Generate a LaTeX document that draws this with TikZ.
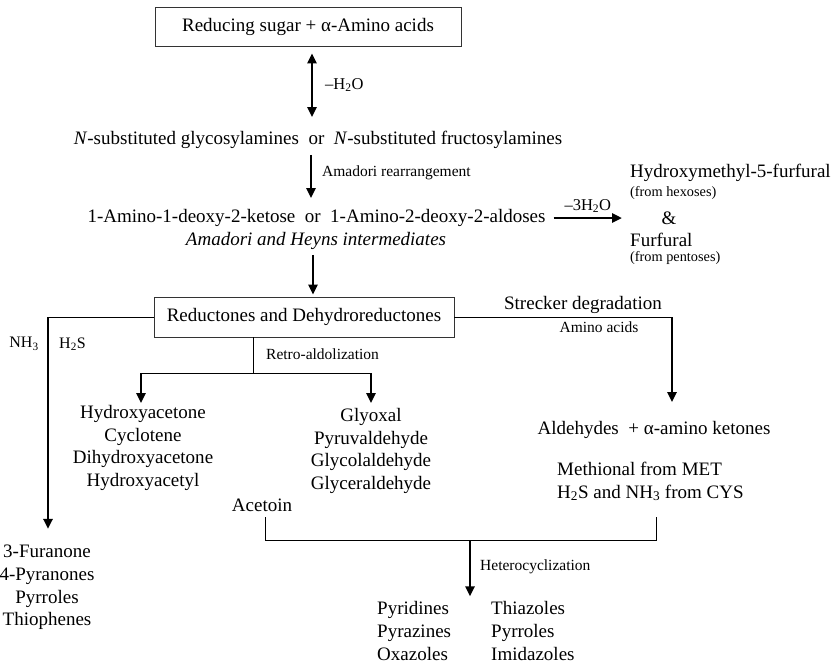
\documentclass[tikz,border=0pt]{standalone}
\usepackage{fontspec}
\setmainfont{Liberation Serif}
\usetikzlibrary{arrows.meta,calc,positioning}
\tikzset{
    box/.style={draw=black!80, line width=0.9pt, inner sep=0pt, minimum height=39pt},
    txt/.style={font=\fontsize{19}{22.7}\selectfont, inner sep=0pt, align=center},
    lbl/.style={font=\fontsize{15.5}{18}\selectfont, inner sep=0pt},
    tiny/.style={font=\fontsize{14.3}{17}\selectfont, inner sep=0pt},
    flow/.style={line width=2.7pt, -{Triangle[length=10pt,width=9pt]}},
    dflow/.style={line width=2.7pt, {Triangle[length=10pt,width=9pt]}-{Triangle[length=10pt,width=9pt]}},
    link/.style={line width=1pt}
}
\begin{document}
\begin{tikzpicture}[x=1pt,y=-1pt]
\useasboundingbox (0,0) rectangle (834,664);
\node[box, txt, minimum width=306pt] (sugar) at (308,26.5) {Reducing sugar + α-Amino acids};
\node[lbl, font=\fontsize{16.5}{18}\selectfont, anchor=west] (wat) at (325,85) {–H\textsubscript{2}O};
\node[txt] (glyco) at (318,140) {\textit{N}-substituted glycosylamines\ \ or\ \ \textit{N}-substituted fructosylamines};
\node[lbl, anchor=west] (rearr) at (322,173) {Amadori rearrangement};
\node[txt] (amino) at (316.5,218) {1-Amino-1-deoxy-2-ketose\ \ or\ \ 1-Amino-2-deoxy-2-aldoses};
\node[txt] (heyns) at (316,241) {\textit{Amadori and Heyns intermediates}};
\node[box, txt, minimum width=300pt, minimum height=40pt] (redu) at (304,317) {Reductones and Dehydroreductones};

\node[txt, anchor=west] (hmf) at (630,173) {Hydroxymethyl-5-furfural};
\node[tiny, anchor=west] (hex) at (630,193) {(from hexoses)};
\node[txt] (amp) at (669,218) {\&};
\node[txt, anchor=west] (furf) at (630,240) {Furfural};
\node[tiny, anchor=west] (pent) at (630,258) {(from pentoses)};

\node[txt] (streck) at (583,305) {Strecker degradation};
\node[lbl] (aa) at (599,327) {Amino acids};
\node[txt] (ald) at (654,430) {Aldehydes\ \ + α-amino ketones};
\node[txt, align=left, anchor=west] (meth) at (557,481.5) {Methional from MET\\H\textsubscript{2}S and NH\textsubscript{3} from CYS};

\node[lbl, font=\fontsize{16}{18}\selectfont] (nh) at (24,344) {NH\textsubscript{3}};
\node[lbl, font=\fontsize{16}{18}\selectfont] (hs) at (72.5,344) {H\textsubscript{2}S};
\node[lbl, anchor=west] (retro) at (266,354) {Retro-aldolization};
\node[txt] (ketl) at (143,448) {Hydroxyacetone\\Cyclotene\\Dihydroxyacetone\\Hydroxyacetyl};
\node[txt] (aldl) at (371,451) {Glyoxal\\Pyruvaldehyde\\Glycolaldehyde\\Glyceraldehyde};
\node[txt] (acet) at (262,505) {Acetoin};
\node[txt] (fur) at (47,587.5) {3-Furanone\\4-Pyranones\\Pyrroles\\Thiophenes};
\node[lbl, anchor=west] (het) at (480,567) {Heterocyclization};
\node[txt, align=left, anchor=west] (pyr) at (377,631) {Pyridines\\Pyrazines\\Oxazoles};
\node[txt, align=left, anchor=west] (thi) at (491,631) {Thiazoles\\Pyrroles\\Imidazoles};

\coordinate (nhc) at (48,317);
\coordinate (strc) at (672,317);
\coordinate (rtop) at (253,373);
\coordinate (rl) at (141,373);
\coordinate (rr) at (371,373);
\coordinate (bl) at (265,517);
\coordinate (br) at (656,517);
\coordinate (hc) at (470,540);

\draw[dflow, shorten <=7pt, shorten >=14pt] ([xshift=4pt]sugar.south) -- ([xshift=4pt]sugar.south |- glyco.north);
\draw[flow, shorten <=6pt, shorten >=11pt] ([xshift=-7pt]glyco.south) -- ([xshift=-7pt]glyco.south |- amino.north);
\draw[flow, shorten <=8pt, shorten >=8pt] (amino.east) -- node[lbl, font=\fontsize{16.5}{18}\selectfont, above=4pt] (dehyd) {–3H\textsubscript{2}O} (amino.east -| hmf.west);
\draw[flow, shorten <=5pt, shorten >=2pt] ([xshift=-3pt]heyns.south) -- ([xshift=-3pt]heyns.south |- redu.north);

\draw[link] (redu.west) -- (nhc);
\draw[flow, shorten >=16pt] (nhc) -- (nhc |- fur.north);
\draw[link] (redu.east) -- (strc);
\draw[flow, shorten >=19pt] (strc) -- (strc |- ald.north);

\draw[link] (rtop |- redu.south) -- (rtop) (rl) -- (rr);
\draw[flow, shorten >=2pt] (rl) -- (rl |- ketl.north);
\draw[flow, shorten >=5pt] (rr) -- (rr |- aldl.north);

\draw[link] (bl) -- (bl |- hc) -- (br |- hc) -- (br);
\draw[flow, shorten >=5pt] (hc) -- (hc |- pyr.north);
\end{tikzpicture}
\end{document}
